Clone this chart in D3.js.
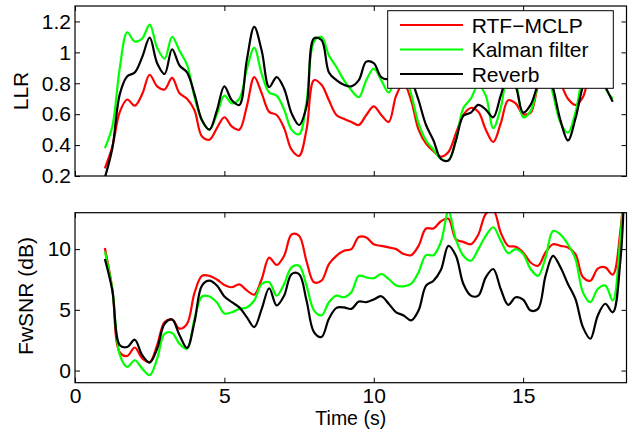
<!DOCTYPE html>
<html>
<head>
<meta charset="utf-8">
<script src="https://cdn.jsdelivr.net/npm/d3@7"></script>
<style>
  body { margin: 0; background: #fff; }
  svg { display: block; font-family: "Liberation Sans", Arial, sans-serif; }
  .tick text { font-size: 21px; fill: #000; }
  .tick line { stroke: #000; stroke-width: 1; }
</style>
</head>
<body>
<svg width="628" height="429"></svg>
<script>
// time grid (s), shared by both panels
var time = [1, 1.25, 1.5, 1.75, 2, 2.25, 2.5, 2.75, 3, 3.25, 3.5, 3.75, 4, 4.25, 4.5, 4.75,
  5, 5.25, 5.5, 5.75, 6, 6.25, 6.5, 6.75, 7, 7.25, 7.5, 7.75, 8, 8.25, 8.5, 8.75,
  9, 9.25, 9.5, 9.75, 10, 10.25, 10.5, 10.75, 11, 11.25, 11.5, 11.75, 12, 12.25, 12.5, 12.75,
  13, 13.25, 13.5, 13.75, 14, 14.25, 14.5, 14.75, 15, 15.25, 15.5, 15.75, 16, 16.25, 16.5, 16.75,
  17, 17.25, 17.5, 17.75, 18, 18.25, 18.4];

var seriesNames = ["RTF\u2212MCLP", "Kalman filter", "Reverb"];
var seriesColors = ["#ff0000", "#00ff00", "#000000"];

// LLR (top panel)
var llrRtf = [0.25, 0.39, 0.615, 0.695, 0.655, 0.73, 0.855, 0.78,
  0.76, 0.835, 0.735, 0.70, 0.625, 0.455, 0.435, 0.51,
  0.58, 0.52, 0.50, 0.65, 0.84, 0.735, 0.615, 0.595,
  0.51, 0.37, 0.33, 0.50, 0.82, 0.79, 0.69, 0.595,
  0.57, 0.55, 0.53, 0.595, 0.65, 0.595, 0.55, 0.72,
  0.80, 0.69, 0.50, 0.41, 0.36, 0.325, 0.355, 0.475,
  0.595, 0.64, 0.615, 0.50, 0.42, 0.54, 0.69, 0.67,
  0.60, 0.61, 0.78, 0.86, 0.88, 0.80, 0.70, 0.66,
  0.71, 0.88, 0.95, 0.94, 0.92];
var llrKalman = [0.38, 0.52, 0.90, 1.13, 1.07, 1.09, 1.18, 1.03,
  0.96, 1.10, 1.01, 0.92, 0.71, 0.56, 0.50, 0.60,
  0.72, 0.67, 0.70, 0.89, 1.03, 0.86, 0.74, 0.72,
  0.63, 0.50, 0.47, 0.68, 1.07, 1.10, 0.98, 0.905,
  0.82, 0.755, 0.71, 0.82, 0.895, 0.82, 0.74, 0.84,
  0.86, 0.73, 0.54, 0.43, 0.37, 0.31, 0.30, 0.43,
  0.64, 0.70, 0.79, 0.72, 0.51, 0.64, 0.85, 0.80,
  0.58, 0.62, 0.80, 0.92, 0.73, 0.545, 0.48, 0.61,
  0.84, 0.93, 0.92, 0.77, 0.70];
var llrReverb = [0.19, 0.38, 0.73, 0.845, 0.87, 0.97, 1.095, 0.93,
  0.86, 1.02, 0.915, 0.87, 0.73, 0.56, 0.50, 0.625,
  0.78, 0.69, 0.66, 0.95, 1.165, 1.01, 0.775, 0.84,
  0.765, 0.605, 0.53, 0.65, 1.09, 1.08, 0.87, 0.82,
  0.79, 0.78, 0.82, 0.94, 0.93, 0.84, 0.83, 0.92,
  0.93, 0.83, 0.69, 0.53, 0.43, 0.31, 0.30, 0.43,
  0.59, 0.61, 0.66, 0.63, 0.58, 0.72, 0.85, 0.78,
  0.61, 0.66, 0.80, 0.92, 0.77, 0.56, 0.43, 0.57,
  0.78, 0.90, 0.90, 0.78, 0.68];

// FwSNR in dB (bottom panel)
var snrRtf = [10.1, 6.7, 1.5, 1.2, 1.9, 1.0, 0.7, 2.1,
  4.0, 4.2, 3.45, 3.85, 6.4, 7.8, 7.8, 7.5,
  7.05, 6.86, 7.1, 6.6, 6.25, 7.54, 9.3, 8.7,
  9.45, 11.2, 11.1, 9.0, 7.27, 7.4, 8.77, 9.45,
  9.86, 10.0, 11.0, 10.96, 10.4, 10.27, 10.14, 10.0,
  9.6, 9.5, 10.27, 11.7, 11.7, 12.3, 12.5, 10.8,
  10.6, 10.4, 11.2, 12.9, 13.2, 11.37, 10.27, 10.2,
  9.73, 8.9, 8.63, 9.73, 10.4, 10.27, 10.14, 9.6,
  7.7, 7.4, 8.4, 8.5, 7.9, 11.4, 16];
var snrKalman = [9.8, 6.7, 1.3, 0.3, 0.85, 0.16, -0.38, 0.98,
  3.03, 3.1, 2.2, 1.8, 4.26, 6.1, 6.1, 5.6,
  4.7, 4.8, 5.08, 5.2, 5.77, 7.13, 7.27, 6.17,
  7.13, 8.5, 8.63, 7.0, 4.95, 4.54, 5.63, 6.17,
  6.04, 6.45, 7.8, 7.68, 7.6, 7.95, 7.54, 7.0,
  6.94, 7.13, 8.1, 9.5, 9.5, 10.6, 13.1, 10.8,
  9.45, 9.04, 10.0, 11.1, 11.8, 10.7, 9.67, 10.0,
  9.6, 8.36, 7.8, 9.3, 11.5, 11.2, 10.4, 9.2,
  6.45, 5.63, 6.72, 7.0, 5.77, 10.8, 16];
var snrReverb = [9.18, 6.58, 2.08, 1.94, 2.54, 1.26, 0.66, 1.8,
  3.85, 4.2, 2.9, 1.86, 4.0, 7.0, 7.4, 7.0,
  6.1, 5.63, 5.2, 4.4, 3.58, 5.08, 6.78, 5.36,
  6.17, 7.95, 7.95, 5.77, 3.17, 2.76, 4.26, 5.16,
  5.2, 5.08, 5.68, 5.63, 5.85, 6.12, 5.5, 4.8,
  4.54, 4.13, 4.95, 7.0, 7.4, 8.3, 10.27, 9.45,
  7.13, 6.17, 6.17, 7.68, 8.36, 6.72, 5.41, 6.04,
  5.85, 4.95, 5.08, 7.8, 9.45, 8.5, 7.13, 5.9,
  3.58, 2.62, 4.54, 5.5, 4.8, 8.9, 16];

var xTicks = [0, 5, 10, 15];
var llrTicks = [0.2, 0.4, 0.6, 0.8, 1, 1.2];
var snrTicks = [0, 5, 10];

var svg = d3.select("svg");
var left = 75, right = 626.5;

var x = d3.scaleLinear().domain([0, 18.46]).range([left, right]);

var panels = [
  {top: 6, bottom: 176, domain: [0.2, 1.3], ticks: llrTicks, label: "LLR", labelX: 28, labelY: 91,
   series: [llrRtf, llrKalman, llrReverb], xLabels: false},
  {top: 212.7, bottom: 382.7, domain: [-1, 13], ticks: snrTicks, label: "FwSNR (dB)", labelX: 33, labelY: 296,
   series: [snrRtf, snrKalman, snrReverb], xLabels: true}
];

panels.forEach(function(p, pi) {
  var y = d3.scaleLinear().domain(p.domain).range([p.bottom, p.top]);
  var h = p.bottom - p.top;

  var clipId = "clip" + pi;
  svg.append("clipPath").attr("id", clipId)
    .append("rect").attr("x", left).attr("y", p.top)
    .attr("width", right - left).attr("height", h);

  var line = d3.line()
      .x(function(d, i) { return x(time[i]); })
      .y(function(d) { return y(d); })
      .curve(d3.curveCatmullRom);

  svg.append("g").attr("clip-path", "url(#" + clipId + ")")
    .selectAll("path")
    .data(p.series)
    .enter().append("path")
      .attr("d", line)
      .attr("fill", "none")
      .attr("stroke", function(d, i) { return seriesColors[i]; })
      .attr("stroke-width", 2.2)
      .attr("stroke-linejoin", "round");

  // ticks on all four sides, pointing inward
  svg.append("g")
      .attr("transform", "translate(0," + p.bottom + ")")
      .call(d3.axisBottom(x).tickValues(xTicks).tickSize(-5).tickPadding(5)
        .tickFormat(p.xLabels ? d3.format("d") : ""));
  svg.append("g")
      .attr("transform", "translate(0," + p.top + ")")
      .call(d3.axisTop(x).tickValues(xTicks).tickSize(-5).tickFormat(""));
  svg.append("g")
      .attr("transform", "translate(" + left + ",0)")
      .call(d3.axisLeft(y).tickValues(p.ticks).tickSize(-5).tickPadding(4)
        .tickFormat(function(d) { return d3.format("")(d); }));
  svg.append("g")
      .attr("transform", "translate(" + right + ",0)")
      .call(d3.axisRight(y).tickValues(p.ticks).tickSize(-5).tickFormat(""));

  svg.selectAll(".domain").remove();

  svg.append("rect")
      .attr("x", left).attr("y", p.top)
      .attr("width", right - left).attr("height", h)
      .attr("fill", "none").attr("stroke", "#000").attr("stroke-width", 1.2);

  svg.append("text")
      .attr("transform", "translate(" + p.labelX + "," + p.labelY + ") rotate(-90)")
      .attr("text-anchor", "middle")
      .attr("font-size", "21px")
      .text(p.label);
});

svg.append("text")
    .attr("x", (left + right) / 2).attr("y", 424.5)
    .attr("text-anchor", "middle")
    .attr("font-size", "19.5px")
    .text("Time (s)");

// legend
var legend = svg.append("g");
legend.append("rect")
    .attr("x", 387.7).attr("y", 10.7)
    .attr("width", 225.6).attr("height", 77.6)
    .attr("fill", "#fff").attr("stroke", "#000").attr("stroke-width", 1);

var rows = legend.selectAll(".row")
    .data(seriesNames)
  .enter().append("g")
    .attr("class", "row")
    .attr("transform", function(d, i) { return "translate(0," + (25 + i * 24.5) + ")"; });

rows.append("line")
    .attr("x1", 400).attr("x2", 463)
    .attr("stroke", function(d, i) { return seriesColors[i]; })
    .attr("stroke-width", 2.2);

rows.append("text")
    .attr("x", 471.7).attr("dy", "0.36em")
    .attr("font-size", "21px")
    .text(function(d) { return d; });
</script>
</body>
</html>
